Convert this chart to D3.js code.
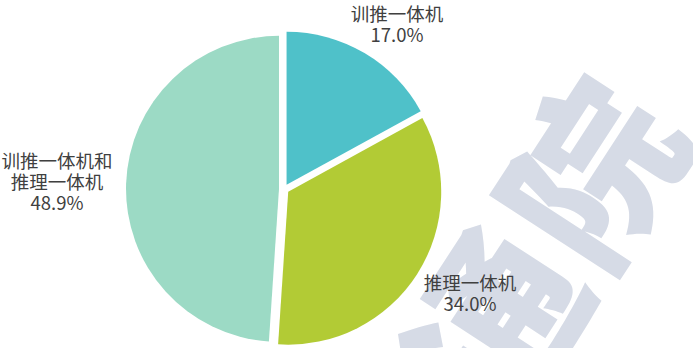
<!DOCTYPE html>
<html>
<head>
<meta charset="utf-8">
<script src="https://cdn.jsdelivr.net/npm/d3@7"></script>
<style>
  html, body { margin: 0; padding: 0; background: #fff; }
  svg { display: block; }
  text { font-family: "Noto Sans CJK SC", "Noto Sans", sans-serif; }
</style>
</head>
<body>
<svg id="chart" width="693" height="348"></svg>
<script>
// Share of product types (%)
const categories = ["训推一体机", "推理一体机", "训推一体机和\n推理一体机"];
const values = [17.0, 34.0, 48.9];
const colors = ["#4fc1c9", "#b2cb35", "#9cdac5"];
const watermarkText = "通院";

const W = 693, H = 348;
const svg = d3.select("#chart");

// faint watermark behind the chart
svg.append("text")
  .attr("transform", "translate(538,240) rotate(-57)")
  .attr("text-anchor", "middle")
  .attr("dominant-baseline", "central")
  .attr("font-size", 172)
  .attr("font-weight", 900)
  .attr("letter-spacing", 6)
  .attr("fill", "#d6dbe6")
  .text(watermarkText);

const cx = 284, cy = 189, radius = 153, explode = 5;

const pie = d3.pie().sort(null).value(d => d)(values);
const arc = d3.arc().innerRadius(0).outerRadius(radius);

const g = svg.append("g").attr("transform", `translate(${cx},${cy})`);

g.selectAll("path.slice")
  .data(pie)
  .join("path")
  .attr("class", "slice")
  .attr("fill", (d, i) => colors[i])
  .attr("transform", d => {
    const a = (d.startAngle + d.endAngle) / 2;
    return `translate(${Math.sin(a) * explode},${-Math.cos(a) * explode})`;
  })
  .attr("d", arc);

// label anchors relative to the pie centre
const labelPos = [
  { x: 113, y: -168 },
  { x: 186, y: 101 },
  { x: -227, y: -21 }
];

const fmt = d3.format(".1f");
const lineH = 21;

pie.forEach((d, i) => {
  const lines = categories[i].split("\n").concat([fmt(values[i]) + "%"]);
  lines.forEach((ln, k) => {
    g.append("text")
      .attr("text-anchor", "middle")
      .attr("font-size", 18.5)
      .attr("fill", "#404040")
      .attr("x", labelPos[i].x)
      .attr("y", labelPos[i].y + k * lineH)
      .text(ln);
  });
});
</script>
</body>
</html>
